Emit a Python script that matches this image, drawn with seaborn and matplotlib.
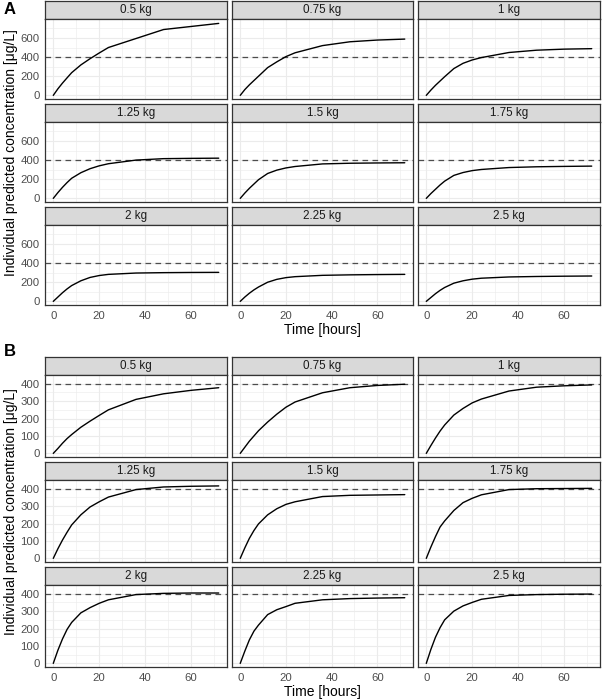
import numpy as np
import pandas as pd
import matplotlib
matplotlib.use("Agg")
import matplotlib.pyplot as plt
import seaborn as sns

sns.set_theme(style="white")
plt.rcParams['font.family'] = ['Liberation Sans', 'DejaVu Sans']

# ---------------- data ----------------
weights = ["0.5 kg", "0.75 kg", "1 kg", "1.25 kg", "1.5 kg", "1.75 kg",
           "2 kg", "2.25 kg", "2.5 kg"]
time_h = [0, 2, 4, 6, 8, 12, 16, 20, 24, 36, 48, 60, 72]
target = 400

# Panel A concentrations (ug/L)
A_05 = [0, 68, 128, 183, 237, 318, 383, 443, 500, 594, 688, 720, 752]
A_075 = [0, 60, 110, 155, 200, 290, 350, 405, 445, 520, 560, 578, 588]
A_1 = [0, 55, 105, 150, 195, 280, 335, 370, 395, 448, 472, 483, 488]
A_125 = [0, 60, 115, 165, 210, 268, 310, 340, 362, 400, 415, 418, 420]
A_15 = [0, 55, 105, 150, 195, 260, 295, 318, 333, 360, 367, 370, 372]
A_175 = [0, 50, 95, 140, 180, 240, 270, 290, 302, 322, 330, 334, 337]
A_2 = [0, 45, 90, 130, 165, 215, 250, 270, 282, 296, 300, 302, 303]
A_225 = [0, 45, 85, 120, 150, 200, 230, 248, 258, 272, 277, 280, 282]
A_25 = [0, 40, 80, 115, 145, 190, 215, 232, 242, 255, 260, 263, 265]

# Panel B concentrations (ug/L)
B_05 = [0, 28, 58, 85, 108, 150, 185, 218, 250, 310, 342, 362, 377]
B_075 = [0, 35, 70, 100, 130, 180, 225, 265, 295, 348, 377, 390, 397]
B_1 = [0, 45, 88, 128, 163, 220, 258, 290, 312, 358, 380, 388, 393]
B_125 = [0, 55, 105, 150, 192, 250, 295, 325, 352, 395, 410, 414, 416]
B_15 = [0, 60, 115, 160, 198, 250, 285, 310, 325, 355, 362, 364, 366]
B_175 = [0, 65, 125, 180, 215, 275, 320, 345, 365, 395, 400, 401, 402]
B_2 = [0, 75, 140, 195, 235, 290, 320, 345, 365, 395, 402, 404, 404]
B_225 = [0, 70, 135, 185, 220, 280, 308, 326, 345, 365, 372, 375, 377]
B_25 = [0, 80, 150, 205, 250, 300, 330, 350, 368, 390, 395, 397, 398]

A_series = [A_05, A_075, A_1, A_125, A_15, A_175, A_2, A_225, A_25]
B_series = [B_05, B_075, B_1, B_125, B_15, B_175, B_2, B_225, B_25]

A_yticks = [0, 200, 400, 600]
B_yticks = [0, 100, 200, 300, 400]
x_ticks = [0, 20, 40, 60]


def make_df(series):
    rows = []
    for w, vals in zip(weights, series):
        for t, v in zip(time_h, vals):
            rows.append((w, t, v))
    return pd.DataFrame(rows, columns=["weight", "time", "conc"])


dfA = make_df(A_series)
dfB = make_df(B_series)

# ---------------- layout ----------------
W, H = 602, 699
fig = plt.figure(figsize=(W / 100, H / 100), dpi=100)

BORDER = "#333333"
STRIP_BG = "#D9D9D9"
GRID = "#EBEBEB"
TICKTXT = "#4D4D4D"

col_x = [(45, 227), (232, 413), (418, 600)]


def px_axes(x0, y0, x1, y1):
    return fig.add_axes([x0 / W, 1 - y1 / H, (x1 - x0) / W, (y1 - y0) / H])


def draw_block(df, top, strip_h, panel_h, pitch, yticks, ymax, letter, letter_y):
    xmin, xmax = 0, 72
    xr = xmax - xmin
    xlim = (xmin - 0.05 * xr, xmax + 0.05 * xr)
    yr = ymax - 0
    ylim = (0 - 0.05 * yr, ymax + 0.05 * yr)
    step = yticks[1] - yticks[0]
    yminor = [v + step / 2 for v in yticks[:-1]] + [yticks[-1] + step / 2]
    for i, w in enumerate(weights):
        r, c = divmod(i, 3)
        x0, x1 = col_x[c]
        sy0 = top + r * pitch
        py0 = sy0 + strip_h
        py1 = py0 + panel_h
        # strip
        sax = px_axes(x0, sy0, x1, py0)
        sax.set_facecolor(STRIP_BG)
        sax.set_xticks([]); sax.set_yticks([])
        for sp in sax.spines.values():
            sp.set_color(BORDER); sp.set_linewidth(0.9)
        sax.text(0.5, 0.5, w, ha="center", va="center", fontsize=8.4,
                 color="#1A1A1A", transform=sax.transAxes)
        # panel
        ax = px_axes(x0, py0, x1, py1)
        ax.set_facecolor("white")
        sub = df[df["weight"] == w]
        ax.set_xlim(*xlim); ax.set_ylim(*ylim)
        ax.set_xticks(x_ticks)
        ax.set_xticks([10, 30, 50, 70], minor=True)
        ax.set_yticks(yticks)
        ax.set_yticks(yminor, minor=True)
        ax.grid(True, which="major", color=GRID, linewidth=0.8)
        ax.grid(True, which="minor", color=GRID, linewidth=0.4)
        ax.set_axisbelow(True)
        ax.axhline(target, color="#4D4D4D", linestyle=(0, (4.5, 3.5)), linewidth=0.9, zorder=2)
        sns.lineplot(data=sub, x="time", y="conc", ax=ax, color="black",
                     linewidth=1.0, zorder=3)
        ax.set_xlabel(""); ax.set_ylabel("")
        for sp in ax.spines.values():
            sp.set_color(BORDER); sp.set_linewidth(0.9)
        ax.tick_params(axis="both", which="minor", length=0)
        ax.tick_params(axis="both", which="major", length=2.5, width=0.7,
                       color=BORDER, labelsize=8.2, labelcolor=TICKTXT, pad=1.5)
        if c != 0:
            ax.tick_params(axis="y", which="major", length=0, labelleft=False)
        if r != 2:
            ax.tick_params(axis="x", which="major", length=0, labelbottom=False)
    bottom = top + 2 * pitch + strip_h + panel_h
    mid_x = (col_x[0][0] + col_x[2][1]) / 2
    fig.text(mid_x / W, 1 - (bottom + 25) / H, "Time [hours]", ha="center",
             va="center", fontsize=10, color="black")
    mid_y = (top + bottom) / 2
    fig.text(11 / W, 1 - mid_y / H, "Individual predicted concentration [\u03bcg/L]",
             rotation=90, ha="center", va="center", fontsize=10, color="black")
    fig.text(4 / W, 1 - letter_y / H, letter, ha="left", va="center",
             fontsize=12, fontweight="bold", color="black")


draw_block(dfA, top=1, strip_h=18, panel_h=80, pitch=103,
           yticks=A_yticks, ymax=760, letter="A", letter_y=10)
draw_block(dfB, top=357, strip_h=18, panel_h=82, pitch=105,
           yticks=B_yticks, ymax=416, letter="B", letter_y=352)

fig.savefig("out.png", dpi=100, facecolor="white")
